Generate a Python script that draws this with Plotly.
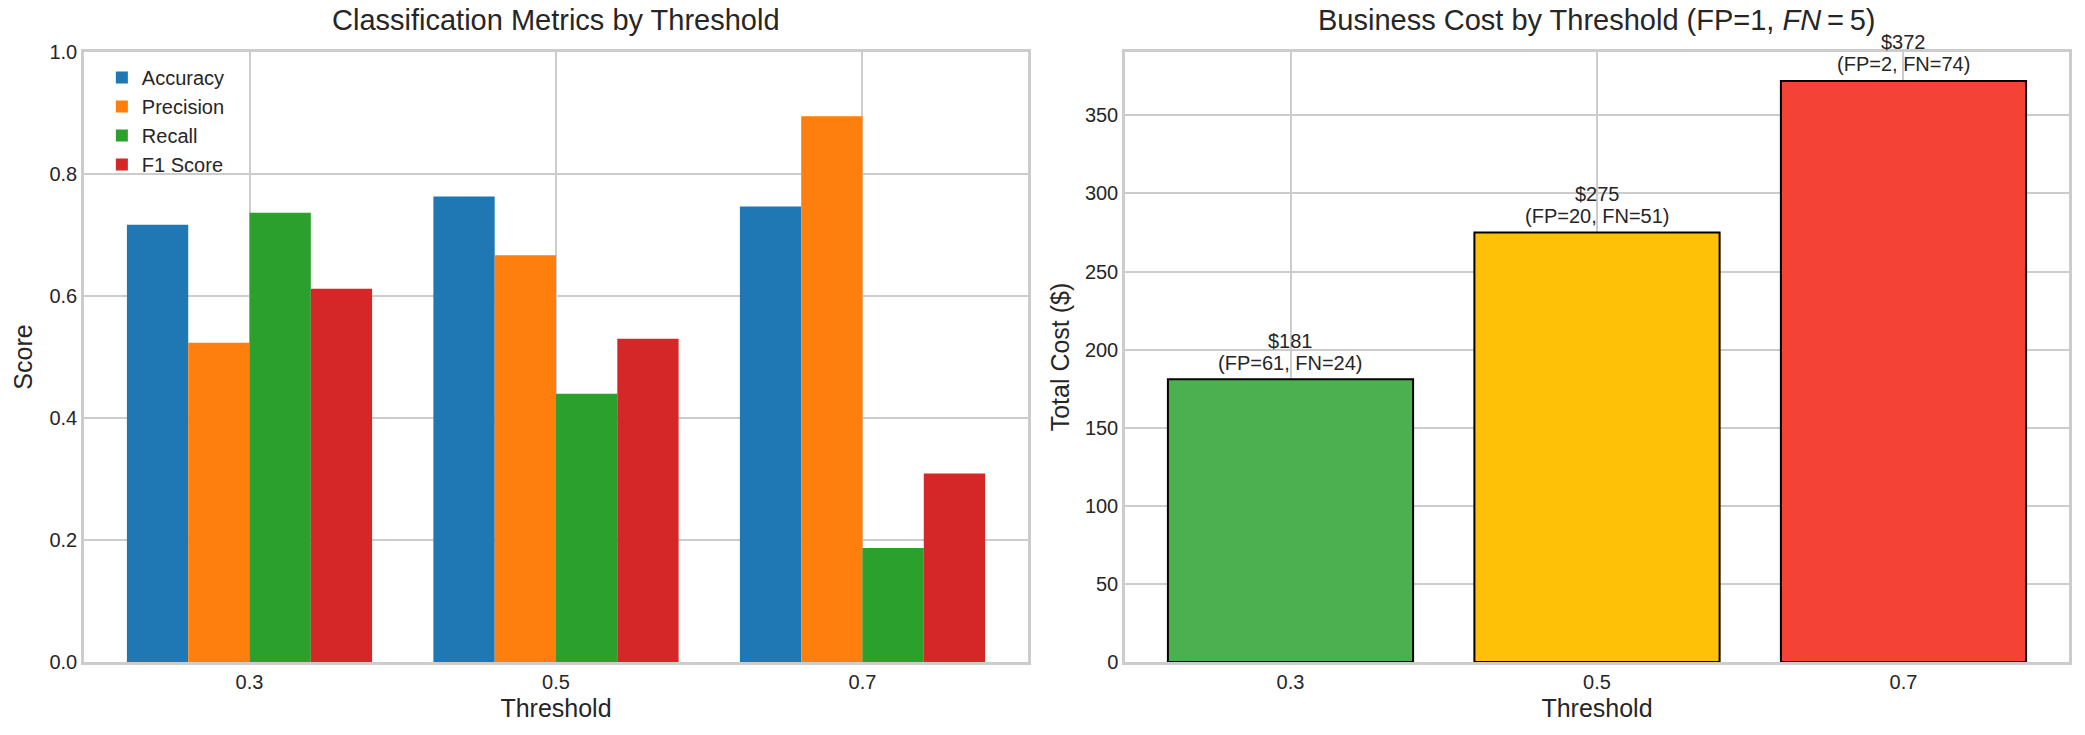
import plotly.graph_objects as go

# ---- data ----
thresholds = ["0.3", "0.5", "0.7"]
metric_names = ["Accuracy", "Precision", "Recall", "F1 Score"]
accuracy = [0.7167, 0.7633, 0.7467]
precision = [0.5234, 0.6667, 0.8947]
recall = [0.7363, 0.4396, 0.1868]
f1_score = [0.6119, 0.5298, 0.3091]
total_cost = [181, 275, 372]
false_pos = [61, 20, 2]
false_neg = [24, 51, 74]

metric_colors = ["#1f77b4", "#ff7f0e", "#2ca02c", "#d62728"]
cost_colors = ["#4CAF50", "#FFC107", "#F44336"]

FONT = "Liberation Sans, Arial, sans-serif"
TXT = "#262626"
GRID = "#cccccc"

W, H = 2085, 735
L, R, T, B = 84, 16, 52, 73
pw = W - L - R
ph = H - T - B

xpos = list(range(len(thresholds)))

fig = go.Figure()
for name, vals, col in zip(metric_names, [accuracy, precision, recall, f1_score], metric_colors):
    fig.add_trace(go.Bar(x=xpos, y=vals, name=name, marker=dict(color=col, line=dict(width=0)),
                         xaxis="x", yaxis="y"))

fig.add_trace(go.Bar(x=xpos, y=total_cost, showlegend=False,
                     marker=dict(color=cost_colors, line=dict(color="black", width=2)),
                     xaxis="x2", yaxis="y2"))

dom_left = [0, (1028 - L) / pw]
dom_right = [(1125 - L) / pw, 1]

axis_common = dict(showgrid=True, gridcolor=GRID, gridwidth=2, showline=True, linecolor=GRID,
                   linewidth=2.5, mirror=True, ticks="", zeroline=False,
                   tickfont=dict(family=FONT, size=20, color=TXT),
                   title_font=dict(family=FONT, size=25, color=TXT))

fig.update_layout(
    width=W, height=H,
    margin=dict(l=L, r=R, t=T, b=B, autoexpand=False),
    paper_bgcolor="white", plot_bgcolor="white",
    barmode="group", bargap=0.2, bargroupgap=0,
    font=dict(family=FONT, color=TXT),
    xaxis=dict(axis_common, domain=dom_left, range=[-0.54, 2.54], tickvals=xpos, ticktext=thresholds,
               title=dict(text="Threshold", standoff=8), anchor="y"),
    yaxis=dict(axis_common, range=[0, 1], dtick=0.2, tickformat=".1f",
               title=dict(text="Score", standoff=10), anchor="x"),
    xaxis2=dict(axis_common, domain=dom_right, range=[-0.54, 2.54], tickvals=xpos, ticktext=thresholds,
                title=dict(text="Threshold", standoff=8), anchor="y2"),
    yaxis2=dict(axis_common, range=[0, 390.6], dtick=50,
                title=dict(text="Total Cost ($)", standoff=9), anchor="x2"),
    legend=dict(x=0.009, y=0.99, xanchor="left", yanchor="top", bgcolor="rgba(0,0,0,0)",
                font=dict(family=FONT, size=20, color=TXT), tracegroupgap=0),
    showlegend=True,
)

ytitle = 1 + (T - 20) / ph
fig.add_annotation(text="Classification Metrics by Threshold", xref="paper", yref="paper",
                   x=(dom_left[0] + dom_left[1]) / 2, y=ytitle, xanchor="center", yanchor="middle",
                   showarrow=False, font=dict(family=FONT, size=29, color=TXT))
fig.add_annotation(text="Business Cost by Threshold (FP=1, <i>FN</i>\u2009=\u20095)", xref="paper", yref="paper",
                   x=(dom_right[0] + dom_right[1]) / 2, y=ytitle, xanchor="center", yanchor="middle",
                   showarrow=False, font=dict(family=FONT, size=29, color=TXT))

for i, (c, fp, fn) in enumerate(zip(total_cost, false_pos, false_neg)):
    fig.add_annotation(text=f"(FP={fp}, FN={fn})", xref="x2", yref="y2",
                       x=i, y=c + 5, xanchor="center", yanchor="bottom", yshift=-4, showarrow=False,
                       font=dict(family=FONT, size=20, color=TXT))
    fig.add_annotation(text=f"${c}", xref="x2", yref="y2",
                       x=i, y=c + 5, xanchor="center", yanchor="bottom", yshift=18, showarrow=False,
                       font=dict(family=FONT, size=20, color=TXT))

fig.write_html("out.html")
